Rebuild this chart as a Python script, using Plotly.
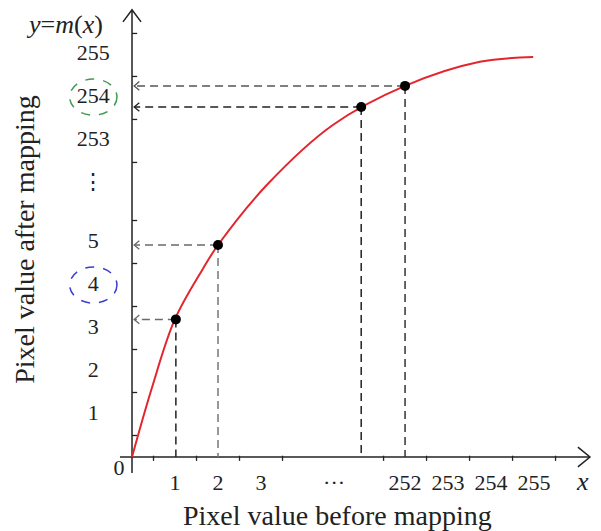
import plotly.graph_objects as go

# ---------------- data (axis units: one slot per pixel value) ----------------
x_tick_labels = ["1", "2", "3", "···", "252", "253", "254", "255"]
x_label_pos = [1, 2, 3, 4.7, 6.35, 7.35, 8.35, 9.35]
x_tick_pos = [0.5, 1.5, 2.5, 3.5, 5.85, 6.85, 7.85, 8.85, 9.85]

y_tick_labels = ["1", "2", "3", "4", "5", "⋮", "253", "254", "255"]
y_label_pos = [1, 2, 3, 4, 5, 6.35, 7.35, 8.35, 9.35]
y_tick_pos = [0.5, 1.5, 2.5, 3.5, 4.5, 5.5, 6.85, 7.85, 8.85, 9.85]

# mapping curve m(x)
curve_x = [0, 0.46, 1.0, 1.65, 2.0, 3.14, 4.67, 6.35, 8.09, 9.33]
curve_y = [0, 1.6, 3.21, 4.38, 4.93, 6.33, 7.72, 8.63, 9.19, 9.30]

# highlighted mapping points
point_x = [1.02, 2.0, 5.33, 6.35]
point_y = [3.2, 4.93, 8.14, 8.63]
h_colors = ["#6a6a6a", "#6a6a6a", "#222222", "#555555"]
v_colors = ["#222222", "#777777", "#222222", "#333333"]

# circled labels
circled_y = [8.37, 4.0]
circled_colors = ["#3f9a4f", "#3b3bd0"]

FONT = "Liberation Serif, Times New Roman, serif"
X_MIN, X_MAX = -2.884, 11.093
Y_MIN, Y_MAX = -1.907, 10.442

fig = go.Figure()

# axes lines
x_axis_start, x_axis_end = -0.28, 10.65
y_axis_start, y_axis_end = -0.37, 10.40
fig.add_trace(go.Scatter(x=[x_axis_start, x_axis_end], y=[0, 0], mode="lines",
                         line=dict(color="#222", width=1.5), hoverinfo="skip"))
fig.add_trace(go.Scatter(x=[0, 0], y=[y_axis_start, y_axis_end], mode="lines",
                         line=dict(color="#222", width=1.5), hoverinfo="skip"))
# axis arrowheads (open chevrons)
fig.add_trace(go.Scatter(
    x=[x_axis_end - 0.28, x_axis_end, x_axis_end - 0.28, None, -0.21, 0, 0.21],
    y=[0.23, 0, -0.23, None, y_axis_end - 0.28, y_axis_end, y_axis_end - 0.28],
    mode="lines", line=dict(color="#222", width=1.5), hoverinfo="skip"))

# tick marks
tx, ty = [], []
for p in x_tick_pos:
    tx += [p, p, None]
    ty += [0.03, -0.09, None]
for p in y_tick_pos:
    tx += [0, 0.12, None]
    ty += [p, p, None]
fig.add_trace(go.Scatter(x=tx, y=ty, mode="lines", line=dict(color="#222", width=1.3),
                         hoverinfo="skip"))

# dashed guide lines
for px, py, hc, vc in zip(point_x, point_y, h_colors, v_colors):
    fig.add_trace(go.Scatter(x=[px, 0.05], y=[py, py], mode="lines",
                             line=dict(color=hc, width=1.5, dash="8px,5px"), hoverinfo="skip"))
    fig.add_trace(go.Scatter(x=[px, px], y=[py, 0], mode="lines",
                             line=dict(color=vc, width=1.5, dash="8px,5px"), hoverinfo="skip"))
    fig.add_trace(go.Scatter(x=[0.17, 0.05, 0.17], y=[py + 0.1, py, py - 0.1], mode="lines",
                             line=dict(color=hc, width=1.3), hoverinfo="skip"))

# curve
fig.add_trace(go.Scatter(x=curve_x, y=curve_y, mode="lines",
                         line=dict(color="#e3262d", width=2, shape="spline", smoothing=1.0),
                         hoverinfo="skip"))
# points
fig.add_trace(go.Scatter(x=point_x, y=point_y, mode="markers",
                         marker=dict(color="black", size=10), hoverinfo="skip"))

# tick labels
fig.add_trace(go.Scatter(x=x_label_pos, y=[-0.63] * len(x_label_pos), mode="text",
                         text=x_tick_labels, textposition="middle center",
                         textfont=dict(family=FONT, size=22, color="#222"), hoverinfo="skip"))
fig.add_trace(go.Scatter(x=[-0.9] * len(y_label_pos), y=y_label_pos, mode="text",
                         text=y_tick_labels, textposition="middle center",
                         textfont=dict(family=FONT, size=22, color="#222"), hoverinfo="skip"))
fig.add_trace(go.Scatter(x=[-0.3], y=[-0.3], mode="text", text=["0"],
                         textposition="middle center",
                         textfont=dict(family=FONT, size=22, color="#222"), hoverinfo="skip"))

# circled labels
for cy, cc in zip(circled_y, circled_colors):
    fig.add_shape(type="circle", xref="x", yref="y", x0=-0.9 - 0.55, x1=-0.9 + 0.55,
                  y0=cy - 0.42, y1=cy + 0.42, line=dict(color=cc, width=1.5, dash="dash"))

annos = [
    dict(x=10.47, y=-0.58, text="<i>x</i>", font=dict(family=FONT, size=26, color="#222")),
    dict(x=-1.56, y=10.05, text="<i>y</i>=<i>m</i>(<i>x</i>)",
         font=dict(family=FONT, size=26, color="#222")),
    dict(x=4.78, y=-1.37, text="Pixel value before mapping",
         font=dict(family=FONT, size=28, color="#222")),
    dict(x=-2.49, y=5.05, text="Pixel value after mapping", textangle=-90,
         font=dict(family=FONT, size=28, color="#222")),
]
for a in annos:
    fig.add_annotation(xref="x", yref="y", showarrow=False, xanchor="center",
                       yanchor="middle", **a)

fig.update_layout(
    width=601, height=531, autosize=False,
    margin=dict(l=0, r=0, t=0, b=0, pad=0),
    paper_bgcolor="white", plot_bgcolor="white",
    showlegend=False,
    xaxis=dict(range=[X_MIN, X_MAX], visible=False, fixedrange=True),
    yaxis=dict(range=[Y_MIN, Y_MAX], visible=False, fixedrange=True),
)

fig.write_html("out.html")
